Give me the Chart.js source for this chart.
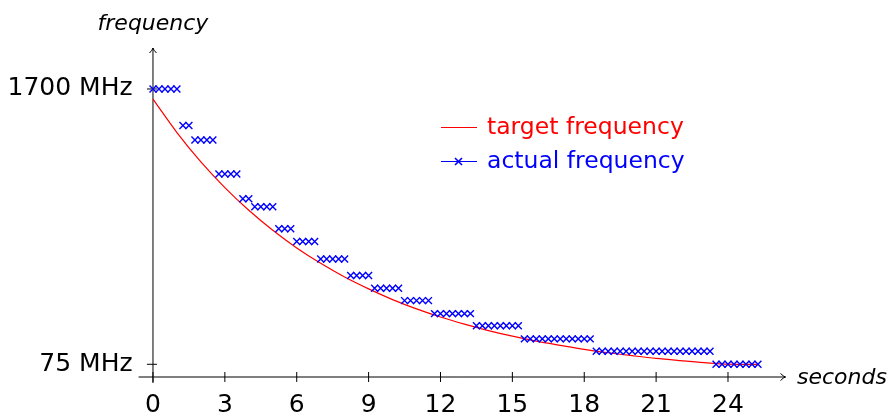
<!DOCTYPE html>
<html>
<head>
<meta charset="utf-8">
<script src="https://cdn.jsdelivr.net/npm/chart.js@4/dist/chart.umd.min.js"></script>
<style>
  html, body { margin: 0; padding: 0; background: #fff; }
  #wrap { width: 891px; height: 416px; }
</style>
</head>
<body>
<div id="wrap"><canvas id="freqChart" width="891" height="416"></canvas></div>
<script>
// tick values and labels
const xTicks = [0, 3, 6, 9, 12, 15, 18, 21, 24];
const yTicks = [75, 1700];
const yTickLabels = ['75 MHz', '1700 MHz'];

// target frequency (red curve)
const targetTimes = [0, 1, 2, 3, 4, 5, 6, 7, 8, 9, 10, 11, 12, 13, 14, 15, 16, 17, 18, 19, 20, 21, 22, 23, 24, 25.25];
const targetFreq = [1640, 1443, 1270, 1118, 984, 866, 762, 671, 590, 520, 457, 402, 354, 312, 274, 241, 212, 187, 163, 143, 126, 110, 97, 85, 76, 75];

// actual frequency samples (blue crosses)
const actualTimes = [
    0, 0.25, 0.5, 0.75, 1, 1.25, 1.5, 1.75, 2, 2.25, 2.5, 2.75, 3, 3.25, 3.5, 3.75, 4, 4.25, 4.5, 4.75,
    5, 5.25, 5.5, 5.75, 6, 6.25, 6.5, 6.75, 7, 7.25, 7.5, 7.75, 8, 8.25, 8.5, 8.75, 9, 9.25, 9.5, 9.75,
    10, 10.25, 10.5, 10.75, 11, 11.25, 11.5, 11.75, 12, 12.25, 12.5, 12.75, 13, 13.25, 13.5, 13.75, 14, 14.25, 14.5, 14.75,
    15, 15.25, 15.5, 15.75, 16, 16.25, 16.5, 16.75, 17, 17.25, 17.5, 17.75, 18, 18.25, 18.5, 18.75, 19, 19.25, 19.5, 19.75,
    20, 20.25, 20.5, 20.75, 21, 21.25, 21.5, 21.75, 22, 22.25, 22.5, 22.75, 23, 23.25, 23.5, 23.75, 24, 24.25, 24.5, 24.75,
    25, 25.25
];
const actualFreq = [
    1700, 1700, 1700, 1700, 1700, 1485, 1485, 1399, 1399, 1399, 1399, 1198, 1198, 1198, 1198, 1052, 1052, 1005, 1005, 1005,
    1005, 875, 875, 875, 800, 800, 800, 800, 697, 697, 697, 697, 697, 599, 599, 599, 599, 524, 524, 524,
    524, 524, 451, 451, 451, 451, 451, 374, 374, 374, 374, 374, 374, 374, 303, 303, 303, 303, 303, 303, 303, 303,
    225, 225, 225, 225, 225, 225, 225, 225, 225, 225, 225, 225, 152, 152, 152, 152, 152, 152, 152, 152, 152, 152,
    152, 152, 152, 152, 152, 152, 152, 152, 152, 152, 75, 75, 75, 75, 75, 75,
    75, 75
];

const FONT = 'DejaVu Sans';

function toPoints(xs, ys) {
    return xs.map((x, i) => ({ x: x, y: ys[i] }));
}

// axis lines, arrows, tick marks, axis titles and legend
const axesPlugin = {
    id: 'axesPlugin',
    beforeDatasetsDraw(chart) {
        const ctx = chart.ctx;
        const xs = chart.scales.x;
        const ys = chart.scales.y;
        const area = chart.chartArea;
        const x0 = xs.getPixelForValue(0);
        const y0 = ys.getPixelForValue(0);

        ctx.save();
        ctx.strokeStyle = '#000';
        ctx.lineWidth = 1;

        // x axis
        ctx.beginPath();
        ctx.moveTo(area.left, y0);
        ctx.lineTo(area.right, y0);
        ctx.stroke();
        // y axis
        ctx.beginPath();
        ctx.moveTo(x0, y0 + 6);
        ctx.lineTo(x0, area.top);
        ctx.stroke();

        // arrow heads
        ctx.beginPath();
        ctx.moveTo(x0 - 3.5, area.top + 5);
        ctx.quadraticCurveTo(x0 - 0.5, area.top + 2, x0, area.top);
        ctx.quadraticCurveTo(x0 + 0.5, area.top + 2, x0 + 3.5, area.top + 5);
        ctx.stroke();
        ctx.beginPath();
        ctx.moveTo(area.right - 5, y0 - 3.5);
        ctx.quadraticCurveTo(area.right - 2, y0 - 0.5, area.right, y0);
        ctx.quadraticCurveTo(area.right - 2, y0 + 0.5, area.right - 5, y0 + 3.5);
        ctx.stroke();

        // tick marks
        xTicks.forEach(v => {
            const px = xs.getPixelForValue(v);
            ctx.beginPath();
            ctx.moveTo(px, y0 - 5);
            ctx.lineTo(px, y0 + 5);
            ctx.stroke();
        });
        yTicks.forEach(v => {
            const py = ys.getPixelForValue(v);
            ctx.beginPath();
            ctx.moveTo(x0 - 6, py);
            ctx.lineTo(x0 + 4, py);
            ctx.stroke();
        });

        // axis titles
        ctx.fillStyle = '#000';
        ctx.font = 'oblique 22px "' + FONT + '"';
        ctx.textBaseline = 'middle';
        ctx.textAlign = 'center';
        ctx.fillText('frequency', x0, 24);
        ctx.textAlign = 'left';
        ctx.fillText('seconds', 797, y0 + 1);
        ctx.restore();
    },
    afterDraw(chart) {
        const ctx = chart.ctx;
        ctx.save();
        ctx.font = '23.5px "' + FONT + '"';
        ctx.textBaseline = 'middle';
        ctx.textAlign = 'left';

        // target entry
        ctx.strokeStyle = 'rgb(255,0,0)';
        ctx.lineWidth = 1.1;
        ctx.beginPath();
        ctx.moveTo(441, 127.5);
        ctx.lineTo(477, 127.5);
        ctx.stroke();
        ctx.fillStyle = 'rgb(255,0,0)';
        ctx.fillText('target frequency', 487, 127.5);

        // actual entry
        ctx.strokeStyle = 'rgb(0,0,255)';
        ctx.beginPath();
        ctx.moveTo(441, 161.5);
        ctx.lineTo(477, 161.5);
        ctx.stroke();
        ctx.lineWidth = 1.6;
        ctx.beginPath();
        ctx.moveTo(455, 158);
        ctx.lineTo(462, 165);
        ctx.moveTo(462, 158);
        ctx.lineTo(455, 165);
        ctx.stroke();
        ctx.fillStyle = 'rgb(0,0,255)';
        ctx.fillText('actual frequency', 487, 161.5);
        ctx.restore();
    }
};

const chart = new Chart(document.getElementById('freqChart').getContext('2d'), {
    type: 'scatter',
    data: {
        datasets: [
            {
                label: 'actual frequency',
                data: toPoints(actualTimes, actualFreq),
                showLine: false,
                pointStyle: 'crossRot',
                pointRadius: 4.9,
                pointBorderWidth: 1.4,
                borderColor: 'rgb(0,0,255)',
                backgroundColor: 'rgb(0,0,255)',
                order: 0
            },
            {
                label: 'target frequency',
                data: toPoints(targetTimes, targetFreq),
                showLine: true,
                tension: 0.3,
                pointRadius: 0,
                borderWidth: 1.2,
                borderColor: 'rgb(255,0,0)',
                backgroundColor: 'rgb(255,0,0)',
                order: 1
            }
        ]
    },
    options: {
        responsive: false,
        animation: false,
        devicePixelRatio: 1,
        layout: {
            padding: { top: 48, right: 105.5, left: 0, bottom: 0 }
        },
        plugins: {
            legend: { display: false },
            tooltip: { enabled: false }
        },
        scales: {
            x: {
                type: 'linear',
                min: -0.6,
                max: 26.4,
                grid: { display: false, drawTicks: false, tickLength: 0 },
                border: { display: false },
                afterBuildTicks(scale) {
                    scale.ticks = xTicks.map(v => ({ value: v }));
                },
                afterFit(scale) {
                    scale.height = 39;
                },
                ticks: {
                    autoSkip: false,
                    maxRotation: 0,
                    padding: 13,
                    color: '#000',
                    font: { family: FONT, size: 25 }
                }
            },
            y: {
                type: 'linear',
                min: 0,
                max: 1942,
                grid: { display: false, drawTicks: false, tickLength: 0 },
                border: { display: false },
                afterBuildTicks(scale) {
                    scale.ticks = yTicks.map(v => ({ value: v }));
                },
                afterFit(scale) {
                    scale.width = 138.6;
                },
                ticks: {
                    autoSkip: false,
                    padding: 6,
                    color: '#000',
                    font: { family: FONT, size: 25 },
                    callback: function(value) {
                        const i = yTicks.indexOf(value);
                        return i >= 0 ? yTickLabels[i] : '';
                    }
                }
            }
        }
    },
    plugins: [axesPlugin]
});
</script>
</body>
</html>
